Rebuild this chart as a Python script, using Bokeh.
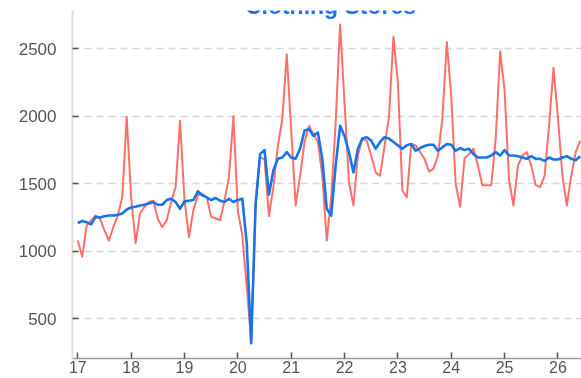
import numpy as np
from bokeh.plotting import figure
from bokeh.models import Range1d, FixedTicker, Label
from bokeh.embed import file_html
from bokeh.resources import INLINE

# ---- data (monthly, starting Jan 2017) ----
start_year = 2017
not_adjusted = [
    1080, 960, 1190, 1230, 1265, 1240, 1155, 1080, 1180, 1265, 1400, 1995,
    1400, 1060, 1280, 1330, 1365, 1375, 1240, 1180, 1230, 1365, 1475, 1965,
    1380, 1105, 1305, 1415, 1425, 1400, 1255, 1245, 1230, 1375, 1550, 2000,
    1300, 1120, 740, 330, 1350, 1700, 1680, 1260, 1480, 1780, 1980, 2460,
    1900, 1340, 1560, 1810, 1930, 1870, 1810, 1560, 1080, 1400, 1950, 2680,
    2100, 1510, 1340, 1710, 1830, 1820, 1710, 1585, 1560, 1780, 2000, 2590,
    2250, 1450, 1400, 1795, 1785, 1735, 1685, 1590, 1610, 1710, 1980, 2550,
    2150, 1500, 1330, 1690, 1720, 1760, 1635, 1490, 1490, 1490, 1830, 2480,
    2190, 1525, 1340, 1635, 1710, 1735, 1635, 1490, 1475, 1560, 1930, 2360,
    1990, 1560, 1340, 1560, 1735, 1820,
]
seasonally_adjusted = [
    1210, 1225, 1215, 1200, 1255, 1250, 1260, 1265, 1265, 1270, 1280, 1310,
    1325, 1330, 1340, 1345, 1355, 1365, 1345, 1345, 1380, 1390, 1365, 1315,
    1370, 1375, 1380, 1445, 1415, 1400, 1380, 1395, 1375, 1365, 1390, 1365,
    1380, 1390, 1060, 320, 1350, 1720, 1750, 1420, 1600, 1685, 1695, 1735,
    1695, 1685, 1760, 1895, 1905, 1855, 1880, 1685, 1315, 1265, 1635, 1930,
    1855, 1735, 1585, 1760, 1835, 1845, 1820, 1760, 1810, 1845, 1835, 1810,
    1785, 1760, 1785, 1795, 1745, 1765, 1780, 1790, 1790, 1745, 1770, 1795,
    1790, 1745, 1765, 1750, 1760, 1720, 1695, 1695, 1695, 1710, 1735, 1710,
    1750, 1710, 1710, 1705, 1695, 1685, 1705, 1685, 1685, 1670, 1695, 1680,
    1680, 1695, 1705, 1685, 1675, 1705,
]
year_ticks = [2017, 2018, 2019, 2020, 2021, 2022, 2023, 2024, 2025, 2026]
year_labels = ["17", "18", "19", "20", "21", "22", "23", "24", "25", "26"]
value_ticks = [500, 1000, 1500, 2000, 2500]
title_text = "Clothing Stores"

months = np.arange(len(not_adjusted))
x = start_year + months / 12.0

RED = "#ff6f69"
BLUE = "#1a73e8"
FONT = "Liberation Sans"

p = figure(
    width=573, height=378,
    output_backend="svg", toolbar_location=None,
    x_range=Range1d(2016.9007, 2026.4417),
    y_range=Range1d(206, 2784),
    min_border_left=64, min_border_right=0,
    min_border_top=10, min_border_bottom=20,
    styles={"position": "fixed", "top": "0px", "left": "8px"},
)
p.outline_line_color = None
p.background_fill_color = "white"
p.border_fill_color = "white"

# x axis
p.xaxis.ticker = FixedTicker(ticks=year_ticks)
p.xaxis.major_label_overrides = {t: l for t, l in zip(year_ticks, year_labels)}
p.xaxis.axis_line_color = "#a0a0a0"
p.xaxis.axis_line_width = 1.5
p.xaxis.major_tick_in = 6
p.xaxis.major_tick_out = 0
p.xaxis.major_tick_line_color = "#555555"
p.xaxis.major_tick_line_width = 1.5
p.xaxis.minor_tick_line_color = None
p.xaxis.major_label_text_font = FONT
p.xaxis.major_label_text_font_size = "16px"
p.xaxis.major_label_text_color = "#555555"
p.xaxis.major_label_standoff = 2

# y axis
p.yaxis.ticker = FixedTicker(ticks=value_ticks)
p.yaxis.axis_line_color = "#dddddd"
p.yaxis.axis_line_width = 2
p.yaxis.major_tick_in = 6
p.yaxis.major_tick_out = 0
p.yaxis.major_tick_line_color = "#555555"
p.yaxis.major_tick_line_width = 1.5
p.yaxis.minor_tick_line_color = None
p.yaxis.major_label_text_font = FONT
p.yaxis.major_label_text_font_size = "17px"
p.yaxis.major_label_text_color = "#555555"
p.yaxis.major_label_standoff = 16

p.xgrid.visible = False
p.ygrid.grid_line_color = "#d6d6d6"
p.ygrid.grid_line_dash = "7 5"
p.ygrid.grid_line_width = 1.5

p.line(x, not_adjusted, line_color=RED, line_width=2, line_join="round")
p.line(x, seasonally_adjusted, line_color=BLUE, line_width=2.6, line_join="round")

title = Label(
    x=258, y=353, x_units="screen", y_units="screen",
    text=title_text, text_align="center", text_baseline="alphabetic",
    text_font=FONT, text_font_size="23px", text_font_style="bold",
    text_color=BLUE,
)
p.add_layout(title)

open("out.html", "w").write(file_html(p, INLINE))
